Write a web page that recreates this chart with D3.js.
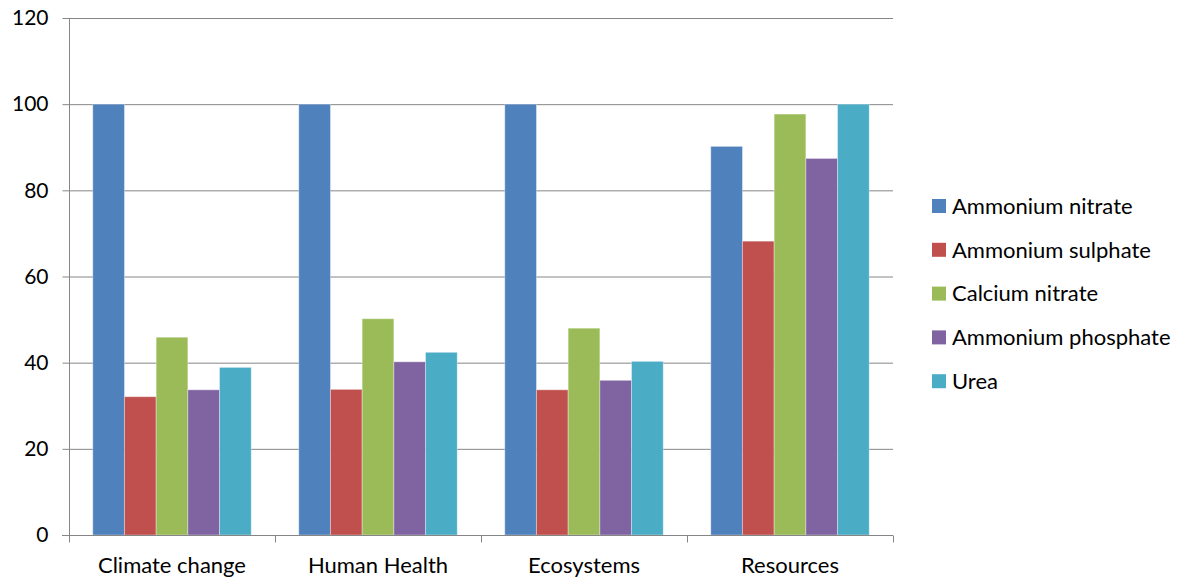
<!DOCTYPE html>
<html>
<head>
<meta charset="utf-8">
<script src="https://cdn.jsdelivr.net/npm/d3@7"></script>
<style>
  body { margin: 0; background: #fff; }
  text { font-family: Lato, "Open Sans", sans-serif; fill: #000; }
</style>
</head>
<body>
<div id="chart"></div>
<script>
const categories = ["Climate change", "Human Health", "Ecosystems", "Resources"];
const seriesNames = ["Ammonium nitrate", "Ammonium sulphate", "Calcium nitrate", "Ammonium phosphate", "Urea"];
const ammoniumNitrate = [100, 100, 100, 90.2];
const ammoniumSulphate = [32.1, 33.8, 33.7, 68.2];
const calciumNitrate = [45.9, 50.2, 48.0, 97.7];
const ammoniumPhosphate = [33.7, 40.2, 35.9, 87.4];
const urea = [38.9, 42.4, 40.3, 100];
const yTicks = [0, 20, 40, 60, 80, 100, 120];
const colors = ["#4F81BD", "#C0504D", "#9BBB59", "#8064A2", "#4BACC6"];

const seriesValues = [ammoniumNitrate, ammoniumSulphate, calciumNitrate, ammoniumPhosphate, urea];
const table = categories.map((c, i) => ({
  category: c,
  values: seriesNames.map((s, j) => ({ series: s, value: seriesValues[j][i] }))
}));

const width = 1186;
const height = 580;
const plotLeft = 69, plotRight = 893, plotTop = 18, plotBottom = 535;

const svg = d3.select("#chart")
  .append("svg")
  .attr("width", width)
  .attr("height", height);

const y = d3.scaleLinear().domain([0, 120]).range([plotBottom, plotTop]);
const x0 = d3.scaleBand().domain(categories).range([plotLeft, plotRight]).padding(0);
const gap = x0.bandwidth() * 0.75 / 6.5;
const x1 = d3.scaleBand().domain(seriesNames).range([gap, x0.bandwidth() - gap]).padding(0);
const color = d3.scaleOrdinal().domain(seriesNames).range(colors);

// gridlines
svg.append("g")
  .selectAll("line")
  .data(yTicks.filter((t) => t > 0))
  .enter()
  .append("line")
  .attr("x1", plotLeft)
  .attr("x2", plotRight)
  .attr("y1", (d) => y(d) + 0.5)
  .attr("y2", (d) => y(d) + 0.5)
  .attr("stroke", "#868686")
  .attr("stroke-width", 1);

// bars
const groups = svg.append("g")
  .selectAll("g")
  .data(table)
  .enter()
  .append("g")
  .attr("transform", (d) => `translate(${x0(d.category)},0)`);

groups.selectAll("rect")
  .data((d) => d.values)
  .enter()
  .append("rect")
  .attr("x", (d) => x1(d.series))
  .attr("y", (d) => y(d.value))
  .attr("width", x1.bandwidth())
  .attr("height", (d) => plotBottom - y(d.value))
  .attr("fill", (d) => color(d.series))
  .attr("stroke", "#ffffff")
  .attr("stroke-opacity", 0.35)
  .attr("stroke-width", 1);

// y axis
const yAxis = d3.axisLeft(y).tickValues(yTicks).tickSize(7).tickPadding(14);
const gy = svg.append("g")
  .attr("transform", `translate(${plotLeft + 0.5},0)`)
  .call(yAxis);
gy.select(".domain").attr("stroke", "#868686").attr("d", `M0,${plotTop}V${plotBottom}`);
gy.selectAll(".tick line").attr("stroke", "#868686");
gy.selectAll(".tick text").style("font-size", "21px").attr("fill", "#000");

// x axis
const gx = svg.append("g")
  .attr("transform", `translate(0,${plotBottom + 0.5})`);
gx.append("line")
  .attr("x1", plotLeft - 7)
  .attr("x2", plotRight)
  .attr("stroke", "#868686");
gx.selectAll(".tk")
  .data(d3.range(categories.length + 1))
  .enter()
  .append("line")
  .attr("class", "tk")
  .attr("x1", (i) => plotLeft + i * x0.bandwidth() + 0.5)
  .attr("x2", (i) => plotLeft + i * x0.bandwidth() + 0.5)
  .attr("y1", 0)
  .attr("y2", 7)
  .attr("stroke", "#868686");
gx.selectAll("text")
  .data(categories)
  .enter()
  .append("text")
  .attr("x", (d) => x0(d) + x0.bandwidth() / 2)
  .attr("y", 22)
  .attr("dy", "0.71em")
  .attr("text-anchor", "middle")
  .style("font-size", "22px")
  .text((d) => d);

// legend
const legend = svg.append("g")
  .selectAll("g")
  .data(seriesNames)
  .enter()
  .append("g")
  .attr("transform", (d, i) => `translate(932,${206 + i * 43.8})`);

legend.append("rect")
  .attr("x", 0)
  .attr("y", -7)
  .attr("width", 14)
  .attr("height", 14)
  .attr("fill", (d) => color(d));

legend.append("text")
  .attr("x", 20)
  .attr("y", 0)
  .attr("dy", "0.35em")
  .style("font-size", "22px")
  .text((d) => d);
</script>
</body>
</html>
